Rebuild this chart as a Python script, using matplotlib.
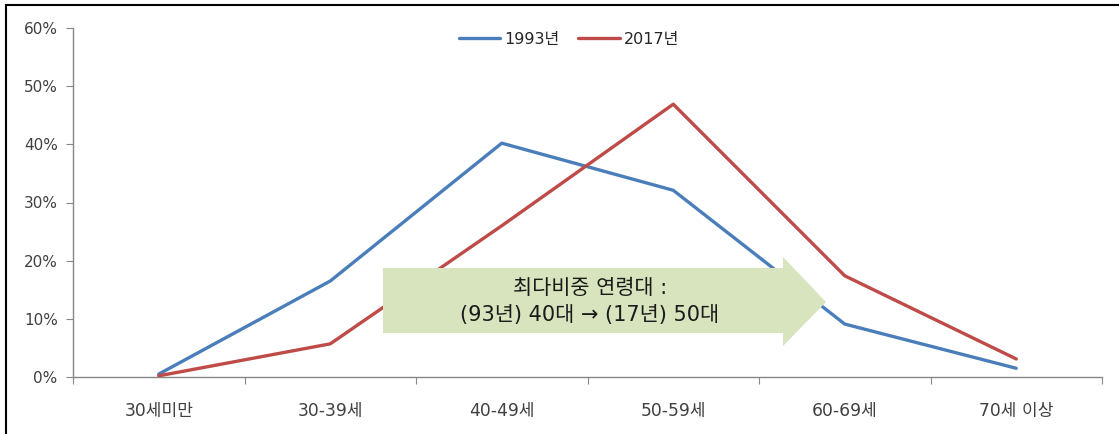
import matplotlib
matplotlib.use("Agg")
import matplotlib.pyplot as plt
from matplotlib.patches import Polygon, Rectangle
from matplotlib.ticker import FuncFormatter

plt.rcParams['font.family'] = ['DejaVu Sans', 'Noto Sans CJK KR']

categories = ['30세미만', '30-39세', '40-49세', '50-59세', '60-69세', '70세 이상']
y1993 = [0.5, 16.5, 40.2, 32.1, 9.1, 1.5]
y2017 = [0.2, 5.7, 26.0, 46.9, 17.4, 3.1]

W, H = 1119, 434
fig = plt.figure(figsize=(W / 100, H / 100), dpi=100)
ax = fig.add_axes([73 / W, 1 - 377 / H, (1102 - 73) / W, (377 - 28) / H])

x = list(range(len(categories)))
ax.plot(x, y1993, color='#4a7ebb', lw=2.4, label='1993년', solid_capstyle='round', zorder=3)
ax.plot(x, y2017, color='#be4b48', lw=2.4, label='2017년', solid_capstyle='round', zorder=3)

ax.set_xlim(-0.5, len(categories) - 0.5)
ax.set_ylim(0, 60)
ax.set_yticks(range(0, 61, 10))
ax.yaxis.set_major_formatter(FuncFormatter(lambda v, p: f'{int(v)}%'))

ax.set_xticks([i - 0.5 for i in range(len(categories) + 1)])
ax.set_xticklabels([])
ax.set_xticks(x, minor=True)
ax.set_xticklabels(categories, minor=True)
ax.tick_params(axis='x', which='minor', length=0, pad=18, labelsize=12.3, labelcolor='#404040')
ax.tick_params(axis='x', which='major', length=5, color='#878787', direction='out')
ax.tick_params(axis='y', length=5, color='#878787', labelsize=11, labelcolor='#404040', pad=6)

for s in ['top', 'right']:
    ax.spines[s].set_visible(False)
for s in ['left', 'bottom']:
    ax.spines[s].set_color('#878787')
    ax.spines[s].set_linewidth(1.0)

leg = ax.legend(loc='upper center', bbox_to_anchor=(0.482, 1.03), ncol=2, frameon=False,
                fontsize=11.5, handlelength=2.6, handletextpad=0.25, columnspacing=1.2)
for t in leg.get_texts():
    t.set_color('#262626')

# annotation arrow (pixel coordinates of the figure)
pts = [(383, 268), (783, 268), (783, 257), (826, 302), (783, 346), (783, 333), (383, 333)]
poly = Polygon([(px / W, 1 - py / H) for px, py in pts], closed=True,
               transform=fig.transFigure, facecolor='#d7e4bd', edgecolor='none', zorder=5)
fig.patches.append(poly)
fig.text(590 / W, 1 - 288 / H, '최다비중 연령대 :', ha='center', va='center',
         fontsize=15, color='#1a1a1a', zorder=6)
fig.text(590 / W, 1 - 315 / H, '(93년) 40대 → (17년) 50대', ha='center', va='center',
         fontsize=15, color='#1a1a1a', zorder=6)

# outer frame
fig.patches.append(Rectangle((6 / W, -0.1), 1.2, 1 - 5 / H + 0.1, transform=fig.transFigure,
                             fill=False, edgecolor='black', lw=1.5))

fig.savefig('out.png', dpi=100)
